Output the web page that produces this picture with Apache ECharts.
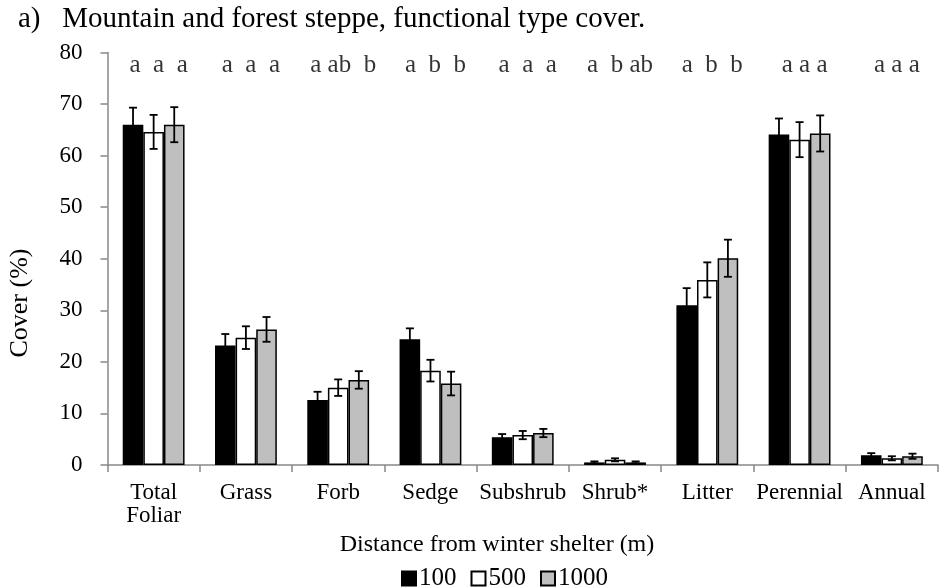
<!DOCTYPE html>
<html>
<head>
<meta charset="utf-8">
<script src="https://cdn.jsdelivr.net/npm/echarts@6/dist/echarts.min.js"></script>
<style>
  html, body { margin: 0; padding: 0; background: #fff; }
  #chart { width: 939px; height: 588px; }
</style>
</head>
<body>
<div id="chart"></div>
<script>
// Functional type cover (%) by distance from winter shelter, mountain and forest steppe
const categories = ['Total\nFoliar', 'Grass', 'Forb', 'Sedge', 'Subshrub', 'Shrub*', 'Litter', 'Perennial', 'Annual'];
const distances = ['100', '500', '1000'];

const cover100  = [66.0, 23.2, 12.6, 24.4, 5.4, 0.5, 31.0, 64.1, 1.9];
const cover500  = [64.6, 24.7, 15.0, 18.3, 5.8, 1.0, 35.9, 63.1, 1.3];
const cover1000 = [66.0, 26.3, 16.5, 15.8, 6.2, 0.5, 40.1, 64.3, 1.7];

// standard errors
const err100  = [3.3, 2.2, 1.6, 2.1, 0.6, 0.2, 3.3, 3.1, 0.4];
const err500  = [3.3, 2.2, 1.6, 2.1, 0.8, 0.3, 3.4, 3.4, 0.4];
const err1000 = [3.4, 2.4, 1.7, 2.3, 0.8, 0.2, 3.6, 3.5, 0.5];

// significance letters per functional type (100 / 500 / 1000 m)
const letters = ['a  a  a', 'a  a  a', 'a ab  b', 'a  b  b', 'a  a  a', 'a  b ab', 'a  b  b', 'a a a', 'a a a'];

const yMin = 0, yMax = 80, yStep = 10;
const letterRow = 77.5;

const FONT = '"Liberation Serif", "Times New Roman", serif';
const GAP = 0.33;          // barCategoryGap as fraction
const fills = ['#000000', '#ffffff', '#bfbfbf'];
const covers = [cover100, cover500, cover1000];
const errs = [err100, err500, err1000];

const chart = echarts.init(document.getElementById('chart'), null, { renderer: 'canvas' });

const barSeries = distances.map((d, k) => ({
  name: d,
  type: 'bar',
  data: covers[k],
  barGap: '0%',
  barCategoryGap: (GAP * 100) + '%',
  itemStyle: { color: fills[k], borderColor: '#000', borderWidth: 1.5 },
  emphasis: { disabled: true },
  z: 2
}));

const errSeries = distances.map((d, k) => ({
  name: 'err' + d,
  type: 'custom',
  silent: true,
  z: 5,
  data: categories.map((c, i) => [i, covers[k][i], errs[k][i]]),
  encode: { x: 0, y: 1 },
  renderItem: function (params, api) {
    const ci = api.value(0), v = api.value(1), e = api.value(2);
    const band = api.size([1, 0])[0];
    const barW = band * (1 - GAP) / distances.length;
    const x = api.coord([ci, v])[0] + (k - 1) * barW;
    const yt = api.coord([ci, v + e])[1];
    const yb = api.coord([ci, v - e])[1];
    const cap = 4;
    const st = { stroke: '#000', lineWidth: 1.8 };
    return {
      type: 'group',
      children: [
        { type: 'line', shape: { x1: x, y1: yt, x2: x, y2: yb }, style: st },
        { type: 'line', shape: { x1: x - cap, y1: yt, x2: x + cap, y2: yt }, style: st },
        { type: 'line', shape: { x1: x - cap, y1: yb, x2: x + cap, y2: yb }, style: st }
      ]
    };
  }
}));

const letterSeries = {
  type: 'scatter',
  silent: true,
  symbolSize: 0,
  data: categories.map((c, i) => [i, letterRow]),
  label: {
    show: true,
    position: 'inside',
    offset: [5, 0],
    formatter: p => letters[p.dataIndex],
    fontFamily: FONT,
    fontSize: 25,
    color: '#000'
  },
  z: 6
};

chart.setOption({
  animation: false,
  backgroundColor: '#fff',
  title: {
    text: 'a)   Mountain and forest steppe, functional type cover.',
    left: 18,
    top: 5,
    padding: 0,
    textStyle: { fontFamily: FONT, fontSize: 29, fontWeight: 'normal', color: '#000' }
  },
  grid: { left: 107.5, right: 1, top: 52.5, bottom: 123, containLabel: false },
  legend: {
    data: distances,
    left: 401,
    top: 566,
    padding: 0,
    itemWidth: 14,
    itemHeight: 14,
    itemGap: 14,
    icon: 'rect',
    selectedMode: false,
    textStyle: { fontFamily: FONT, fontSize: 25, color: '#000', padding: [0, 0, 0, -2] }
  },
  xAxis: {
    type: 'category',
    data: categories,
    axisLine: { lineStyle: { color: '#888', width: 1.5 } },
    axisTick: { show: true, alignWithLabel: false, length: 7, lineStyle: { color: '#888', width: 1.5 } },
    axisLabel: { fontFamily: FONT, fontSize: 23, color: '#000', margin: 16, lineHeight: 23, interval: 0 },
    splitLine: { show: false }
  },
  yAxis: {
    type: 'value',
    min: yMin,
    max: yMax,
    interval: yStep,
    axisLine: { show: true, lineStyle: { color: '#888', width: 1.5 } },
    axisTick: { show: true, length: 7, lineStyle: { color: '#888', width: 1.5 } },
    axisLabel: { fontFamily: FONT, fontSize: 23, color: '#000', margin: 25 },
    splitLine: { show: false }
  },
  graphic: [
    {
      type: 'text',
      x: 20, y: 303,
      rotation: Math.PI / 2,
      style: { text: 'Cover (%)', font: '26px ' + FONT, fill: '#000', textAlign: 'center', textVerticalAlign: 'middle' }
    },
    {
      type: 'text',
      x: 497, y: 545,
      style: { text: 'Distance from winter shelter (m)', font: '24px ' + FONT, fill: '#000', textAlign: 'center', textVerticalAlign: 'middle' }
    }
  ],
  series: [...barSeries, ...errSeries, letterSeries]
});
</script>
</body>
</html>
